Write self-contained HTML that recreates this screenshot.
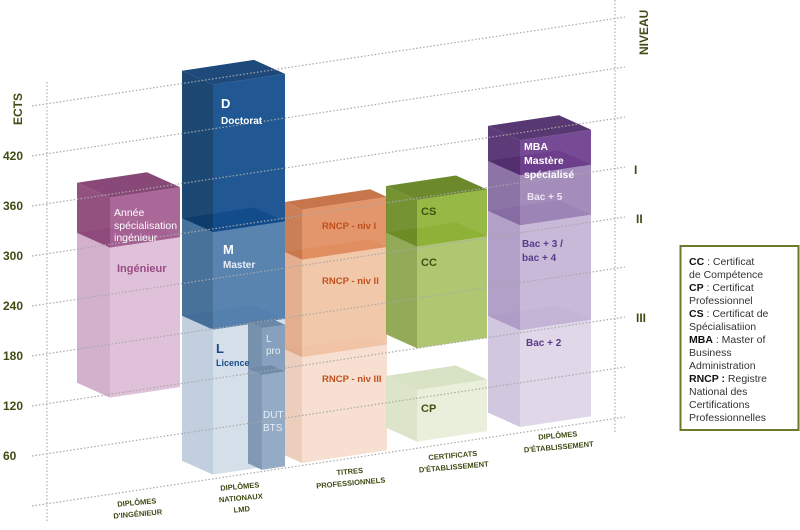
<!DOCTYPE html>
<html><head><meta charset="utf-8"><style>
html,body{margin:0;padding:0;background:#fff;}
svg{display:block;font-family:"Liberation Sans",sans-serif;}
</style></head><body>
<svg id="chart" width="800" height="530" viewBox="0 0 800 530">
<g id="boxes"></g>
<g id="grid"></g>
<g id="labels"></g>
<g font-weight="bold" fill="#3f4d14">
<text transform="translate(22,125) rotate(-90)" font-size="12">ECTS</text>
<g id="yticks" font-size="12"></g>
</g>
<g font-weight="bold" fill="#3f4d14">
<text transform="translate(648,55) rotate(-90)" font-size="12">NIVEAU</text>
<text x="634" y="174" font-size="12">I</text>
<text x="636" y="223" font-size="12">II</text>
<text x="636" y="322" font-size="12">III</text>
</g>
<g id="cats" font-size="7.5" font-weight="bold" fill="#3b4a12" text-anchor="middle"></g>
<g>
<rect x="680.5" y="246" width="118" height="184" fill="#fff" stroke="#6b7a2a" stroke-width="2"/>
<g font-size="10.5" fill="#333">
<text x="689" y="265"><tspan font-weight="bold" fill="#111">CC</tspan> : Certificat</text>
<text x="689" y="278">de Compétence</text>
<text x="689" y="291"><tspan font-weight="bold" fill="#111">CP</tspan> : Certificat</text>
<text x="689" y="304">Professionnel</text>
<text x="689" y="317"><tspan font-weight="bold" fill="#111">CS</tspan> : Certificat de</text>
<text x="689" y="330">Spécialisatiion</text>
<text x="689" y="343"><tspan font-weight="bold" fill="#111">MBA</tspan> : Master of</text>
<text x="689" y="356">Business</text>
<text x="689" y="369">Administration</text>
<text x="689" y="382"><tspan font-weight="bold" fill="#111">RNCP :</tspan> Registre</text>
<text x="689" y="395">National des</text>
<text x="689" y="408">Certifications</text>
<text x="689" y="421">Professionnelles</text>
</g>
</g>
</svg>
<script>
// data
const tickValues = [60,120,180,240,300,360,420];
const gridValues = [0,60,120,180,240,300,360,420,480];
const segNames = ["ingenieur","annee-specialisation","licence","master","doctorat","l-pro","dut-bts","rncp-niv-iii","rncp-niv-ii","rncp-niv-i","cp","cc","cs","bac-2","bac-3-4","bac-5","mba"];
const segLow  = [116,296,5,179,296,116,2,3,130,247,8,120,242,7,123,249,309];
const segHigh = [296,356,179,296,473,172,116,130,247,307,70,242,298,123,249,309,351];
const segCol  = [0,0,1,1,1,2,2,3,3,3,4,4,4,5,5,5,5];
const categories = [["DIPLÔMES","D'INGÉNIEUR"],["DIPLÔMES","NATIONAUX","LMD"],["TITRES","PROFESSIONNELS"],["CERTIFICATS","D'ÉTABLISSEMENT"],["DIPLÔMES","D'ÉTABLISSEMENT"]];

// geometry / style
const cols = [{xl:77,xm:110,xr:180},{xl:182,xm:213,xr:285},{xl:248,xm:262,xr:285},{xl:285,xm:302,xr:387},{xl:386,xm:417,xr:487},{xl:488,xm:520,xr:591}];
const segFront = ["#dcbdd6","#a35b8f","#d1dce8","#4b7aa9","#0e4a8a","#7f9ab8","#8ea6c1","#f6ddcd","#f1c3a4","#e18c5e","#e7eed8","#a9c266","#8db335","#ddd4e7","#c3b3d6","#9c82b5","#6a3b8b"];
const segSide  = ["#cfaac8","#8a4275","#bccbdb","#3a6693","#0a3868","#6f89a6","#7a93b0","#ecc9b5","#e1a887","#c67449","#d9e3c6","#8aa34a","#6a8a22","#cdc2dc","#ab98c4","#83689f","#4f2a6c"];
const segTop   = ["#c89fc0","#7e3a6c","#b5c4d6","#2f5c89","#0b3a70","#62809f","#6f89a8","#e7c0aa","#d9996f","#c26a3c","#d5dfbf","#86a03e","#5f7f1a","#c4b8d6","#a28dbd","#785c95","#4a2766"];
const cats = [{x:137,y:505},{x:240,y:489},{x:350,y:474},{x:453,y:458},{x:558,y:438}];

const NS="http://www.w3.org/2000/svg";
function yv(v,x){return 506 - 0.15*(x-32) - v*5/6;}
function el(tag,attrs,parent){const e=document.createElementNS(NS,tag);for(const k in attrs)e.setAttribute(k,attrs[k]);parent.appendChild(e);return e;}
const gBoxes=document.getElementById('boxes'),gGrid=document.getElementById('grid'),gY=document.getElementById('yticks'),gC=document.getElementById('cats');

segNames.forEach((n,i)=>{
  const c=cols[segCol[i]], drop=0.45*(c.xm-c.xl), w=c.xr-c.xm;
  const yH=yv(segHigh[i],c.xm), yL=yv(segLow[i],c.xm);
  const rH=yv(segHigh[i],c.xr), rL=yv(segLow[i],c.xr);
  const g=el('g',{},gBoxes);
  
  
  const side=el('polygon',{points:`${c.xl},${yH-drop} ${c.xm},${yH} ${c.xm},${yL} ${c.xl},${yL-drop}`,fill:segSide[i],opacity:0.92},g);
  
  
  const front=el('polygon',{points:`${c.xm},${yH} ${c.xr},${rH} ${c.xr},${rL} ${c.xm},${yL}`,fill:segFront[i],opacity:0.92},g);
  
  
  const top=el('polygon',{points:`${c.xl},${yH-drop} ${c.xm},${yH} ${c.xr},${rH} ${c.xl+w},${rH-drop}`,fill:segTop[i],opacity:0.92},g);
  
  
});

gridValues.forEach(v=>{
  const l=el('line',{x1:32,y1:yv(v,32),x2:625,y2:yv(v,625),stroke:"#a8a8a8","stroke-width":1.2,"stroke-dasharray":"1.5 2"},gGrid);
  
  
});
const v1=el('line',{x1:47,y1:82,x2:47,y2:522,stroke:"#b0b0b0","stroke-width":1.2,"stroke-dasharray":"1.5 2"},gGrid);


const v2=el('line',{x1:615,y1:0,x2:615,y2:432,stroke:"#b0b0b0","stroke-width":1.2,"stroke-dasharray":"1.5 2"},gGrid);



tickValues.forEach(v=>{
  const t=el('text',{x:3,y:yv(v,32)+4},gY);
  t.textContent=v;
  
  
});

categories.forEach((lines,i)=>{
  const t=el('text',{transform:`rotate(-5 ${cats[i].x} ${cats[i].y})`},gC);
  
  
  lines.forEach((s,j)=>{const sp=el('tspan',{x:cats[i].x,y:cats[i].y+j*11.5},t);sp.textContent=s;});
});

// segment labels
const L=document.getElementById('labels');
const labelDefs=[
 ["label-annee",114,[["Année",216],["spécialisation",229],["ingénieur",241]],"#fff",10.5,false],
 ["label-ingenieur",117,[["Ingénieur",272]],"#9a4a86",11,true],
 ["label-d",221,[["D",108]],"#fff",13,true],
 ["label-doctorat",221,[["Doctorat",124]],"#fff",10,true],
 ["label-m",223,[["M",254]],"#fff",13,true],
 ["label-master",223,[["Master",268]],"#e8eef6",10,true],
 ["label-l",216,[["L",353]],"#1a4a8a",13,true],
 ["label-licence",216,[["Licence",366]],"#1a4a8a",9,true],
 ["label-lpro",266,[["L",342],["pro",354]],"#e8eef6",10,false],
 ["label-dut",263,[["DUT",418],["BTS",431]],"#e8eef6",10,false],
 ["label-rncp1",322,[["RNCP - niv I",229]],"#c24f1d",9.5,true],
 ["label-rncp2",322,[["RNCP - niv II",284]],"#c24f1d",9.5,true],
 ["label-rncp3",322,[["RNCP - niv III",382]],"#c24f1d",9.5,true],
 ["label-cs",421,[["CS",215]],"#3e5214",11,true],
 ["label-cc",421,[["CC",266]],"#3e5214",11,true],
 ["label-cp",421,[["CP",412]],"#3e5214",11,true],
 ["label-mba",524,[["MBA",150],["Mastère",164],["spécialisé",178]],"#fff",10.5,true],
 ["label-bac5",527,[["Bac + 5",200]],"#eee6f4",10,true],
 ["label-bac34",522,[["Bac + 3 /",247],["bac + 4",261]],"#5a3a8a",10,true],
 ["label-bac2",526,[["Bac + 2",346]],"#5a3a8a",10,true]
];
labelDefs.forEach(d=>{
  const t=el('text',{fill:d[3],"font-size":d[4],"font-weight":d[5]?"bold":"normal"},L);
  
  
  d[2].forEach(p=>{const sp=el('tspan',{x:d[1],y:p[1]},t);sp.textContent=p[0];});
});
</script>
</body></html>
